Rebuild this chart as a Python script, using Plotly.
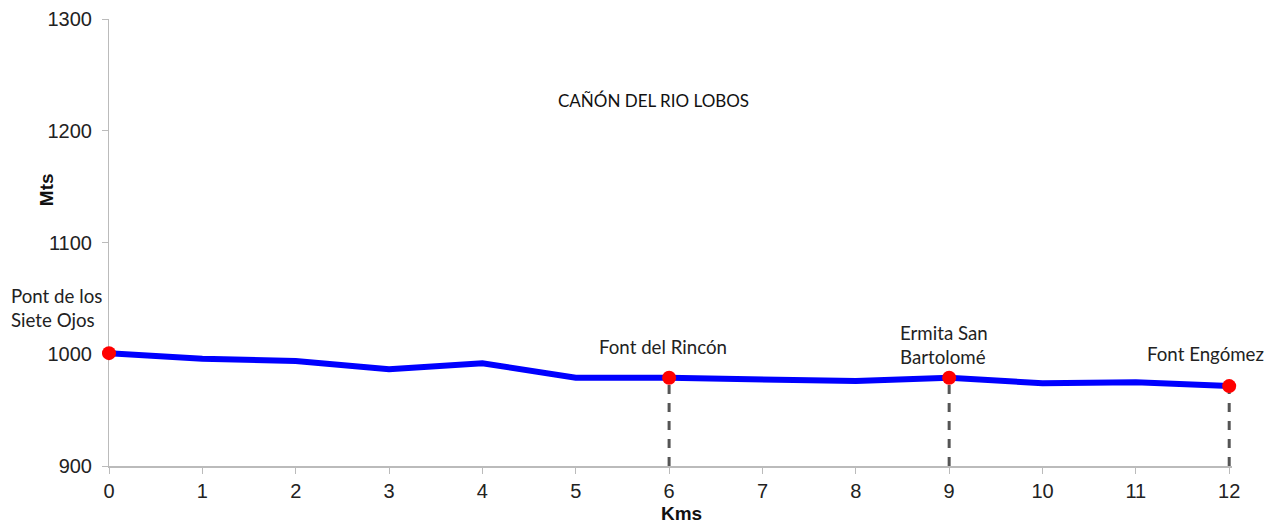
import plotly.graph_objects as go

kms = [0, 1, 2, 3, 4, 5, 6, 7, 8, 9, 10, 11, 12]
alt = [1001, 996, 994, 986.5, 992, 979, 979, 978, 976, 979, 974, 975, 971.5]

poi_km = [0, 6, 9, 12]
poi_names = ["Pont de los<br>Siete Ojos", "Font del Rincón", "Ermita San<br>Bartolomé", "Font Engómez"]
poi_alt = [alt[kms.index(k)] for k in poi_km]

title_text = "CAÑÓN DEL RIO LOBOS"

fig = go.Figure()

# dashed drop lines (for all POIs except the first)
for k, a in zip(poi_km[1:], poi_alt[1:]):
    fig.add_trace(go.Scatter(x=[k, k], y=[900, a], mode="lines",
                             line=dict(color="#555555", width=3, dash="dash"),
                             hoverinfo="skip", showlegend=False, cliponaxis=False))

fig.add_trace(go.Scatter(x=kms, y=alt, mode="lines",
                         line=dict(color="#0000ff", width=6),
                         showlegend=False, cliponaxis=False))
fig.add_trace(go.Scatter(x=poi_km, y=poi_alt, mode="markers",
                         marker=dict(color="#ff0000", size=14),
                         showlegend=False, cliponaxis=False))

label_font = dict(family="Lato, Open Sans, sans-serif", size=18.7, color="#222222")

# first label sits left of the plot area (paper coords)
fig.add_annotation(x=-0.0891, y=1041, xref="paper", yref="y", text=poi_names[0],
                   showarrow=False, font=label_font, xanchor="left", yanchor="middle",
                   align="left")
label_pos = [(5.93, 1006.5), (8.94, 1008), (11.75, 1000)]
for (lx, ly), name in zip(label_pos, poi_names[1:]):
    fig.add_annotation(x=lx, y=ly, text=name, showarrow=False, font=label_font,
                       xanchor="center", yanchor="middle", align="left")

fig.add_annotation(x=5.83, y=1227.5, text=title_text, showarrow=False,
                   font=dict(family="Lato, Open Sans, sans-serif", size=17, color="#111111"),
                   xanchor="center", yanchor="middle")

axis_title_font = dict(family="Liberation Sans, Arial, sans-serif", size=19, color="#111111")
fig.add_annotation(x=0.51, y=0, xref="paper", yref="paper", text="<b>Kms</b>",
                   showarrow=False, font=axis_title_font, yshift=-47,
                   xanchor="center", yanchor="middle")
fig.add_annotation(x=0, y=0.617, xref="paper", yref="paper", text="<b>Mts</b>",
                   showarrow=False, font=axis_title_font, xshift=-63, textangle=-90,
                   xanchor="center", yanchor="middle")

fig.update_layout(
    width=1270, height=515,
    margin=dict(l=101, r=46, t=11, b=57, autoexpand=False),
    paper_bgcolor="white", plot_bgcolor="white",
    font=dict(family="Liberation Sans, Arial, sans-serif", size=20, color="#222222"),
    xaxis=dict(range=[0, 12.03], dtick=1, tick0=0, showgrid=False, zeroline=False,
               showline=True, linecolor="#bbbbbb", linewidth=2,
               ticks="outside", ticklen=6, tickcolor="#bbbbbb", automargin=False,
               layer="below traces", tickfont=dict(size=20)),
    yaxis=dict(range=[900, 1300], dtick=100, showgrid=False, zeroline=False,
               showline=True, linecolor="#bbbbbb", linewidth=1,
               ticks="outside", ticklen=6, tickcolor="#bbbbbb", automargin=False,
               ticklabelstandoff=6,
               layer="below traces", tickfont=dict(size=20)),
)

fig.write_html("out.html")
